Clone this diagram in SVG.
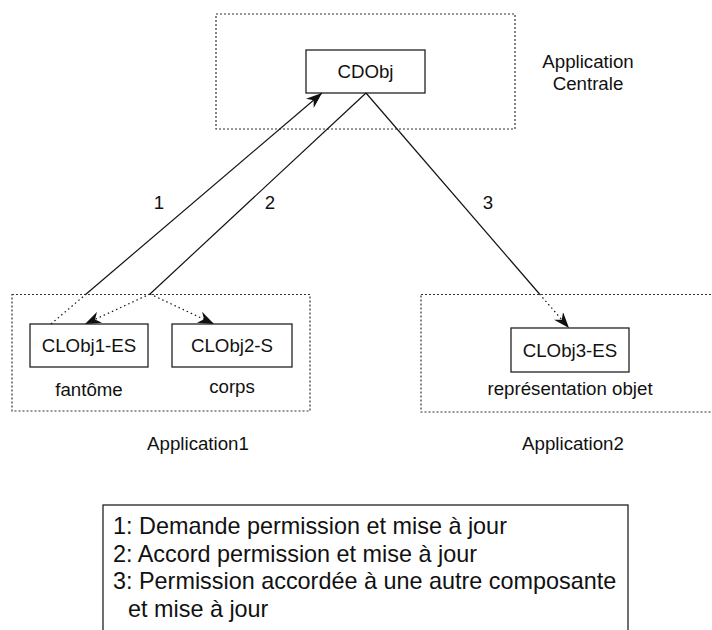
<svg xmlns="http://www.w3.org/2000/svg" width="712" height="630" viewBox="0 0 712 630">
<defs>
<style>
.grp{fill:none;stroke:#333;stroke-width:1.2;stroke-dasharray:2,2}
.node{fill:#fff;stroke:#222;stroke-width:1.3}
.t{font-family:"Liberation Sans",Arial,sans-serif;font-size:18.7px;fill:#111;text-anchor:middle}
.lg{font-family:"Liberation Sans",Arial,sans-serif;font-size:23.4px;fill:#111}
.solid{fill:none;stroke:#111;stroke-width:1.2}
.dot{fill:none;stroke:#111;stroke-width:1.2;stroke-dasharray:1.5,3}
</style>
<marker id="arr" markerUnits="userSpaceOnUse" markerWidth="18" markerHeight="12" refX="16" refY="6" orient="auto">
<path d="M0,0 L16,6 L0,12 L5,6 z" fill="#111"/>
</marker>
</defs>
<rect width="712" height="630" fill="#fff"/>

<g id="app-centrale">
<rect class="grp" x="216" y="14" width="299" height="115"/>
<text class="t" x="588" y="68">Application</text>
<text class="t" x="588" y="90">Centrale</text>
</g>
<g id="app1">
<rect class="grp" x="12" y="294.5" width="298" height="116.5"/>
<text class="t" x="198" y="450">Application1</text>
</g>
<g id="app2">
<rect class="grp" x="421" y="294.5" width="300" height="117.5"/>
<text class="t" x="573" y="450">Application2</text>
</g>

<g id="cdobj">
<rect class="node" x="306" y="50" width="119" height="43"/>
<text class="t" x="365.5" y="78">CDObj</text>
</g>
<g id="clobj1">
<rect class="node" x="30" y="324" width="118" height="43"/>
<text class="t" x="89" y="352">CLObj1-ES</text>
<text class="t" x="89" y="396">fantôme</text>
</g>
<g id="clobj2">
<rect class="node" x="172" y="324" width="120" height="43"/>
<text class="t" x="232" y="352">CLObj2-S</text>
<text class="t" x="232" y="393">corps</text>
</g>
<g id="clobj3">
<rect class="node" x="511" y="328" width="118" height="44"/>
<text class="t" x="570" y="357">CLObj3-ES</text>
<text class="t" x="570" y="395">représentation objet</text>
</g>

<g id="connectors">
<line class="dot" x1="51" y1="324" x2="85" y2="295"/>
<line class="solid" x1="85" y1="295" x2="322" y2="93" marker-end="url(#arr)"/>
<line class="solid" x1="366" y1="93" x2="150" y2="294"/>
<line class="dot" x1="150" y1="294" x2="85" y2="324" marker-end="url(#arr)"/>
<line class="dot" x1="150" y1="294" x2="214" y2="324" marker-end="url(#arr)"/>
<line class="solid" x1="366" y1="93" x2="539.5" y2="294"/>
<line class="dot" x1="539.5" y1="294" x2="569" y2="328" marker-end="url(#arr)"/>
<text class="t" x="159" y="209">1</text>
<text class="t" x="270" y="209">2</text>
<text class="t" x="488" y="209">3</text>
</g>

<g id="legend">
<rect class="node" x="103" y="505" width="525" height="140"/>
<text class="lg" x="113" y="534">1: Demande permission et mise à jour</text>
<text class="lg" x="113" y="561.5">2: Accord permission et mise à jour</text>
<text class="lg" x="113" y="589">3: Permission accordée à une autre composante</text>
<text class="lg" x="128" y="616.5">et mise à jour</text>
</g>
</svg>
